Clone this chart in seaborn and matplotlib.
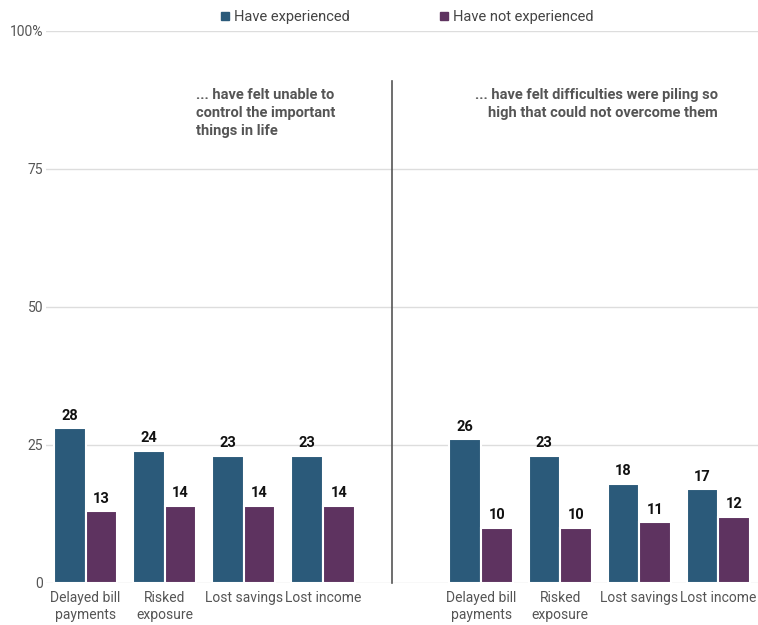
import matplotlib
matplotlib.use("Agg")
import matplotlib.pyplot as plt
from matplotlib.lines import Line2D
import seaborn as sns
import pandas as pd

# Categories and values (percent)
categories = ["Delayed bill\npayments", "Risked\nexposure", "Lost savings", "Lost income"]
series = ["Have experienced", "Have not experienced"]
unable_experienced = [28, 24, 23, 23]
unable_not_experienced = [13, 14, 14, 14]
piling_experienced = [26, 23, 18, 17]
piling_not_experienced = [10, 10, 11, 12]
y_ticks = [0, 25, 50, 75, 100]
y_tick_labels = ["0", "25", "50", "75", "100%"]
panel_titles = ["... have felt unable to\ncontrol the important\nthings in life",
                "... have felt difficulties were piling so\nhigh that could not overcome them"]

colors = {"Have experienced": "#2b5a7a", "Have not experienced": "#5e3360"}

rows = []
for panel, exp, notexp in [("unable", unable_experienced, unable_not_experienced),
                           ("piling", piling_experienced, piling_not_experienced)]:
    for cat, a, b in zip(categories, exp, notexp):
        key = f"{panel}|{cat}"
        rows.append({"slot": key, "group": series[0], "value": a})
        rows.append({"slot": key, "group": series[1], "value": b})
df = pd.DataFrame(rows)

order = [f"unable|{c}" for c in categories] + ["gap"] + [f"piling|{c}" for c in categories]
tick_text = categories + [""] + categories

plt.rcParams["font.family"] = ["Roboto", "DejaVu Sans"]
fig = plt.figure(figsize=(7.58, 6.25), dpi=100)
ax = fig.add_axes([46 / 758, 42 / 625, 712 / 758, 552 / 625])

sns.barplot(data=df, x="slot", y="value", hue="group", order=order,
            hue_order=series, palette=colors, width=0.8, ax=ax,
            edgecolor="white", linewidth=1.5, legend=False, saturation=1)

for cont in ax.containers:
    ax.bar_label(cont, fmt="%d", padding=4, fontsize=10.5, fontweight="bold",
                 color="#111111")

ax.set_ylim(0, 100)
ax.set_xlim(-0.5, len(order) - 0.5)
ax.set_yticks(y_ticks)
ax.set_yticklabels(y_tick_labels)
ax.set_xticks(range(len(order)))
ax.set_xticklabels(tick_text)
ax.tick_params(axis="both", length=0, labelsize=10, colors="#555555")
ax.tick_params(axis="y", pad=2)
ax.tick_params(axis="x", pad=6)
ax.set_xlabel("")
ax.set_ylabel("")
for s in ax.spines.values():
    s.set_visible(False)
ax.grid(axis="y", color="#dddddd", linewidth=1)
ax.set_axisbelow(True)

# divider between the two panels
ax.plot([3.87, 3.87], [0, 91], color="#555555", linewidth=1.2, clip_on=False)

ax.text(1.40, 89.6, panel_titles[0], ha="left", va="top", fontsize=10.5,
        fontweight="bold", color="#555555", linespacing=1.35)
ax.text(7.99, 89.6, panel_titles[1], ha="right", va="top", fontsize=10.5,
        fontweight="bold", color="#555555", linespacing=1.35, multialignment="right")

handles = [Line2D([], [], marker="s", linestyle="", markersize=6,
                  markerfacecolor=colors[s], markeredgecolor=colors[s]) for s in series]
fig.legend(handles, series, loc="upper center", bbox_to_anchor=(0.535, 1.005),
           ncol=2, frameon=False, fontsize=10.5, handletextpad=0.1,
           columnspacing=6, handlelength=1.0, labelcolor="#444444")

fig.savefig("out.png", dpi=100)
